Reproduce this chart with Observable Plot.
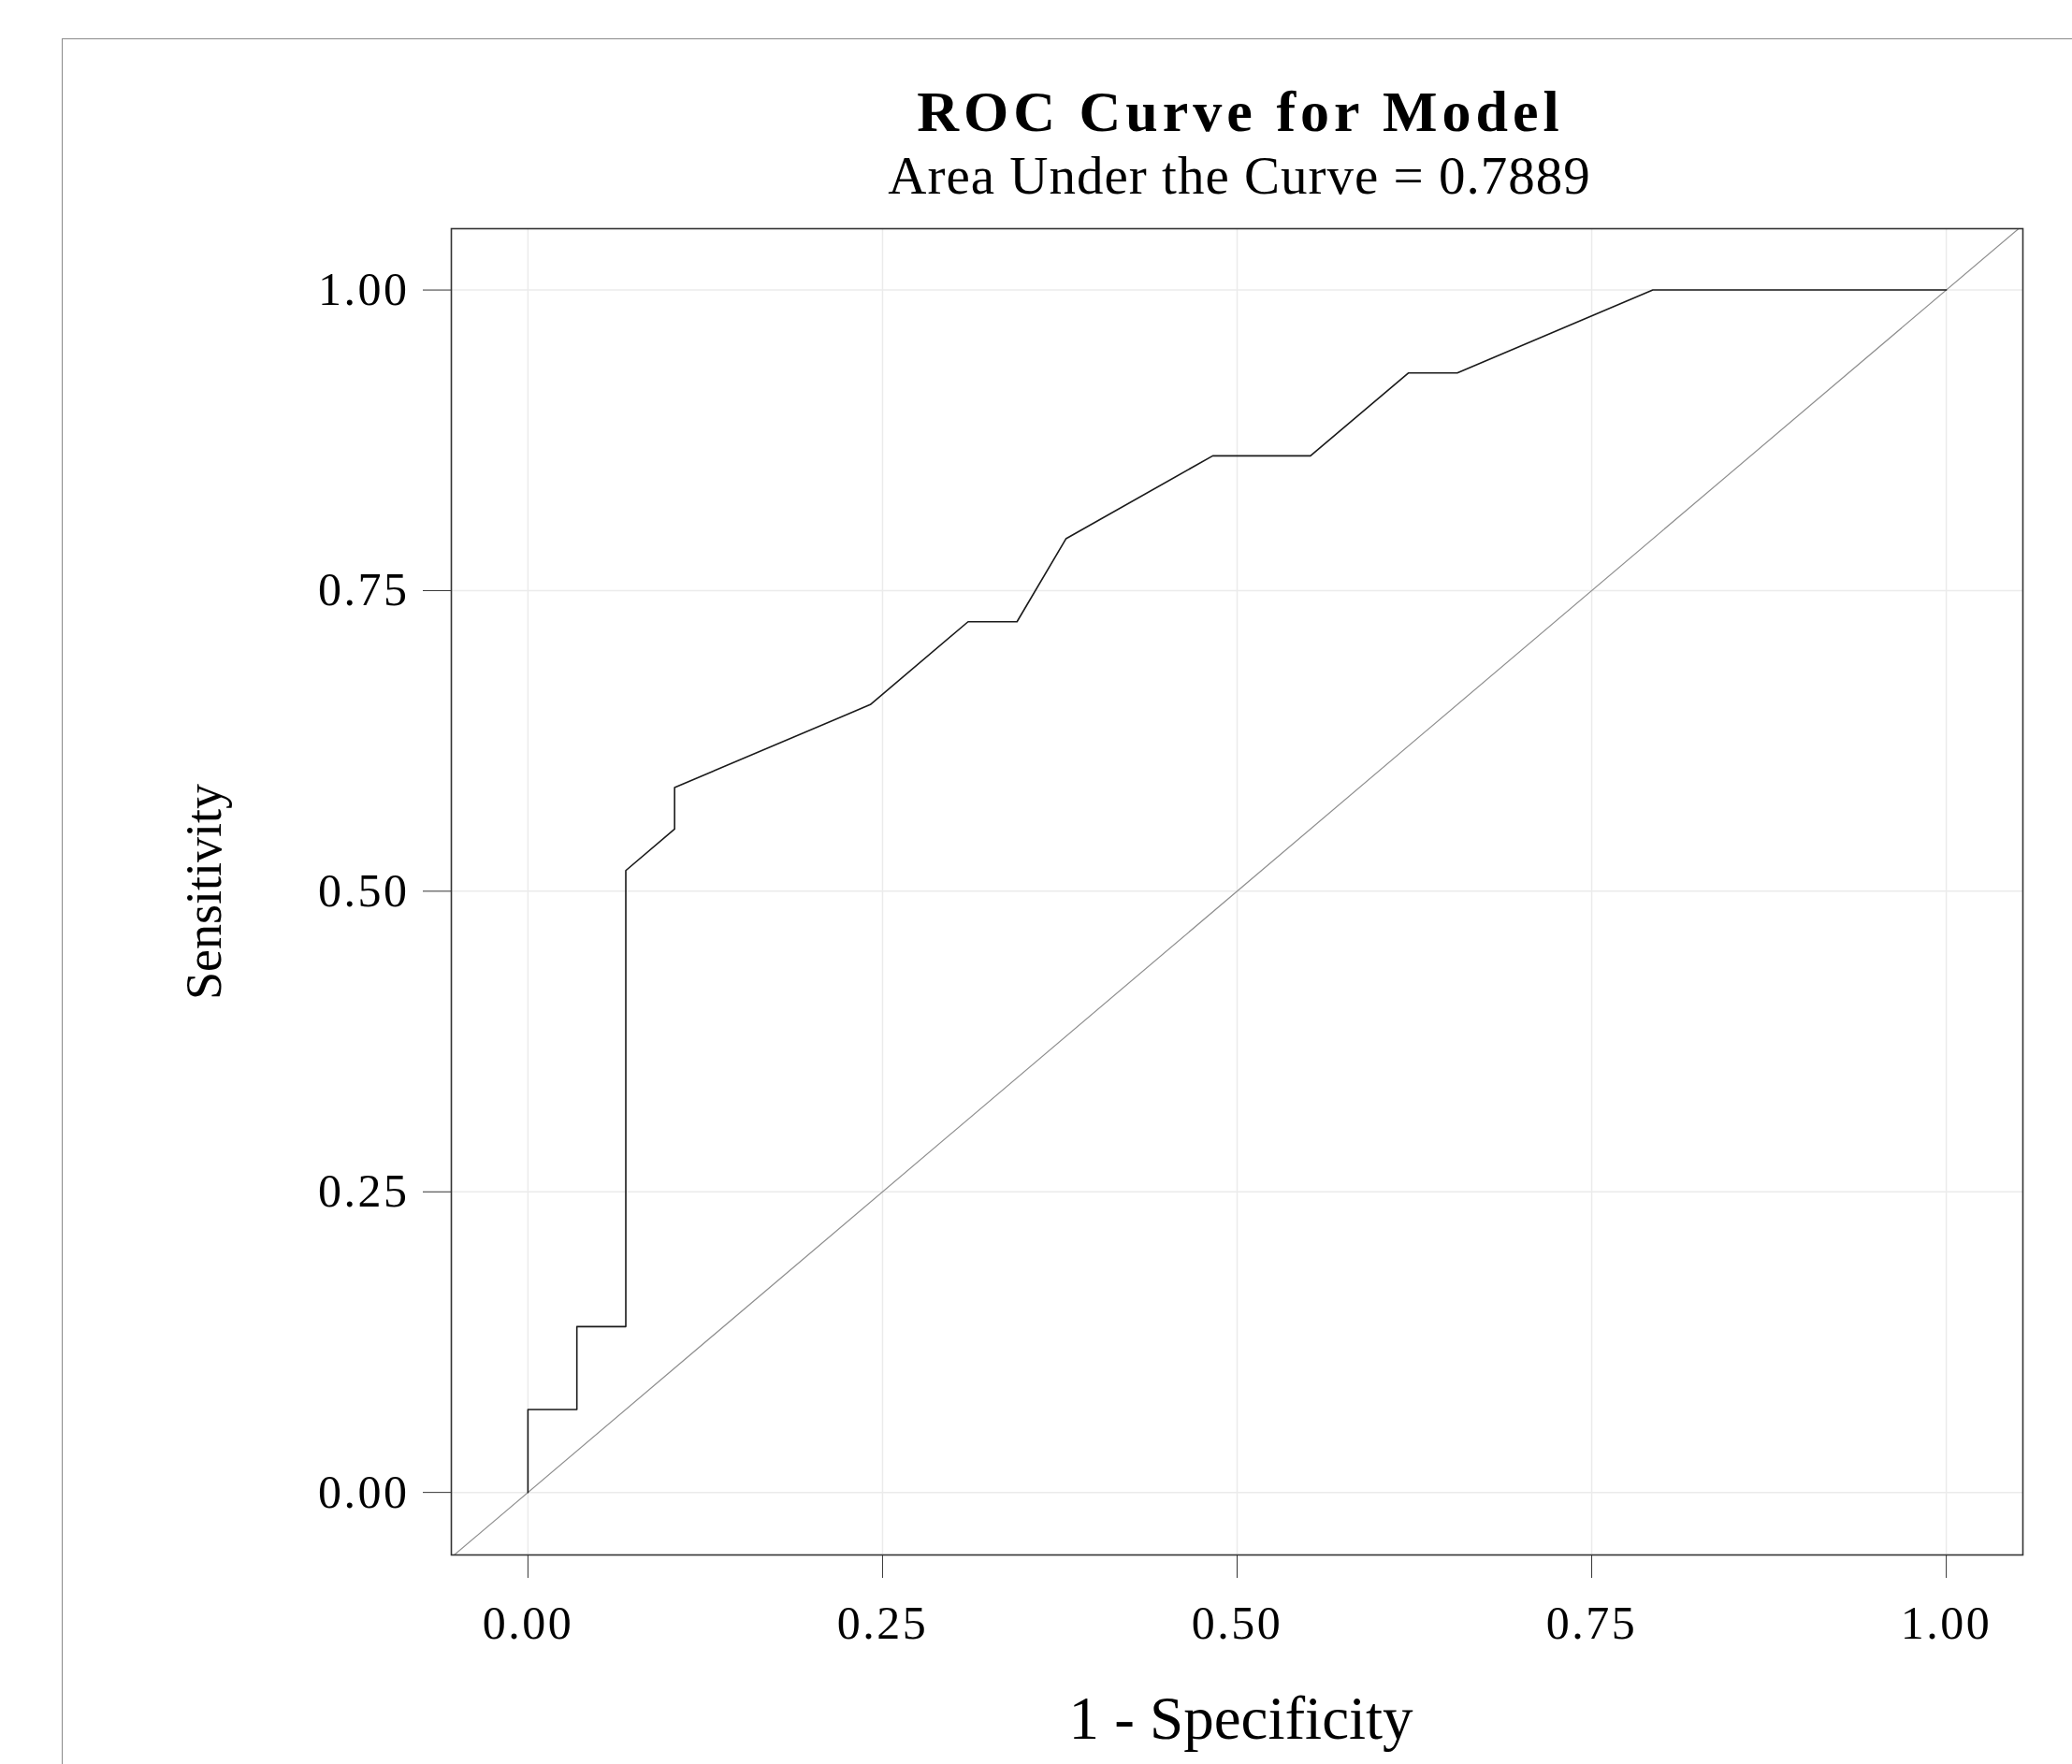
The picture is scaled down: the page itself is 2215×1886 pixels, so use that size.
<!DOCTYPE html>
<html>
<head>
<meta charset="utf-8">
<script src="https://cdn.jsdelivr.net/npm/d3@7"></script>
<script src="https://cdn.jsdelivr.net/npm/@observablehq/plot@0.6"></script>
<style>
  html, body { margin: 0; padding: 0; background: #fff; }
  body { width: 2215px; height: 1886px; overflow: hidden; position: relative; font-family: "Liberation Serif", "Times New Roman", serif; color: #000; }
  #title { position: absolute; left: 1326px; top: 88px; transform: translateX(-50%); font-size: 62px; font-weight: bold; line-height: 1; white-space: nowrap; letter-spacing: 5px; }
  #subtitle { position: absolute; left: 1325px; top: 159px; transform: translateX(-50%); font-size: 57px; line-height: 1; white-space: nowrap; letter-spacing: 1px; }
  #chart { position: absolute; left: 0; top: 224px; }
  #outer { position: absolute; left: 66px; top: 41px; right: -10px; bottom: -10px; border-top: 1.5px solid #8a8a8a; border-left: 1.5px solid #8a8a8a; pointer-events: none; }
  g[aria-label="y-axis tick label"] text, g[aria-label="x-axis tick label"] text { letter-spacing: 2.5px; }
</style>
</head>
<body>
<div id="title">ROC Curve for Model</div>
<div id="subtitle">Area Under the Curve = 0.7889</div>
<div id="chart"></div>
<div id="outer"></div>
<script>
// 1 - Specificity (false positive rate) at each vertex of the ROC curve
const fpr = [0, 0, 0.0345, 0.0345, 0.069, 0.069, 0.1034, 0.1034, 0.2414, 0.3103, 0.3448, 0.3793, 0.4828, 0.5517, 0.6207, 0.6552, 0.7931, 1.0];
// Sensitivity (true positive rate) at each vertex
const tpr = [0, 0.069, 0.069, 0.1379, 0.1379, 0.5172, 0.5517, 0.5862, 0.6552, 0.7241, 0.7241, 0.7931, 0.8621, 0.8621, 0.931, 0.931, 1.0, 1.0];
// chance line (y = x), drawn across the whole panel
const chanceLine = [-0.1, 1.1];
const tickValues = [0, 0.25, 0.5, 0.75, 1];
const xDomain = [-0.054, 1.054];
const yDomain = [-0.052, 1.051];
const titleText = "ROC Curve for Model";
const subtitleText = "Area Under the Curve = 0.7889";
const xLabel = "1 - Specificity";
const yLabel = "Sensitivity";

document.getElementById("title").textContent = titleText;
document.getElementById("subtitle").textContent = subtitleText;

const roc = fpr.map((x, i) => ({fpr: x, tpr: tpr[i]}));
const fmt = d3.format(".2f");

const chart = Plot.plot({
  width: 2215,
  height: 1662,
  marginLeft: 482,
  marginRight: 53,
  marginTop: 20,
  marginBottom: 224,
  style: {fontFamily: "Liberation Serif, Times New Roman, serif", color: "#000", background: "transparent", overflow: "visible"},
  x: {domain: xDomain},
  y: {domain: yDomain},
  marks: [
    Plot.gridX(tickValues, {stroke: "#ebebeb", strokeOpacity: 1, strokeWidth: 1.5}),
    Plot.gridY(tickValues, {stroke: "#ebebeb", strokeOpacity: 1, strokeWidth: 1.5}),
    Plot.line(chanceLine, {x: d => d, y: d => d, stroke: "#8f8f8f", strokeWidth: 1.2, clip: true}),
    Plot.line(roc, {x: "fpr", y: "tpr", stroke: "#1a1a1a", strokeWidth: 1.6}),
    Plot.frame({stroke: "#333", strokeWidth: 1.6}),
    Plot.axisX({ticks: tickValues, anchor: "bottom", tickSize: 25, tickPadding: 29, fontSize: 50, tickFormat: fmt, label: null, stroke: "#333"}),
    Plot.axisY({ticks: tickValues, anchor: "left", tickSize: 30, tickPadding: 15, fontSize: 50, tickFormat: fmt, label: null, stroke: "#333"}),
    Plot.text([xLabel], {frameAnchor: "bottom", textAnchor: "middle", lineAnchor: "middle", text: d => d, dx: 4, dy: 176, fontSize: 65, fill: "#000"}),
    Plot.text([yLabel], {frameAnchor: "left", textAnchor: "middle", lineAnchor: "middle", text: d => d, dx: -264, rotate: -90, fontSize: 54, fill: "#000"})
  ]
});
document.getElementById("chart").appendChild(chart);
</script>
</body>
</html>
